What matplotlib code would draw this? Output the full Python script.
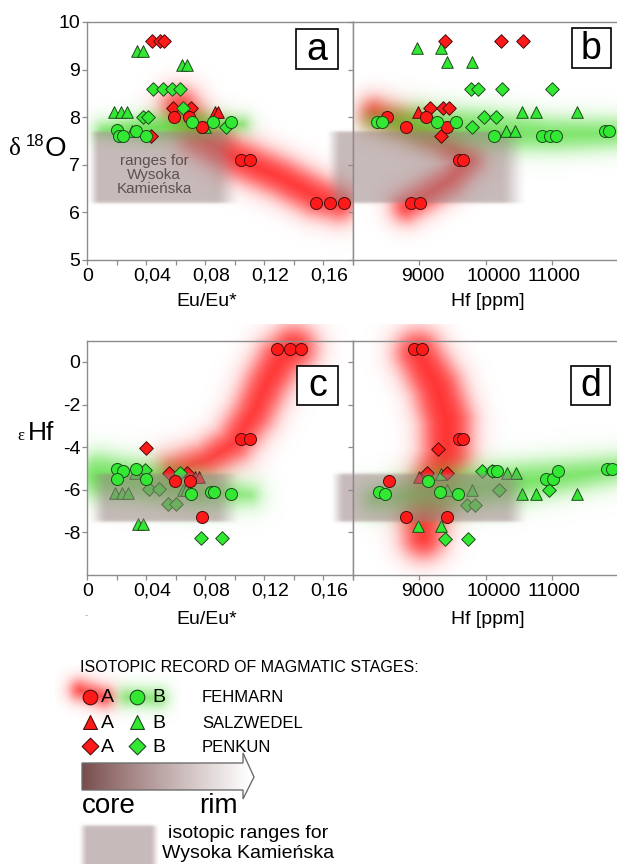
import numpy as np
import matplotlib
matplotlib.use("Agg")
import matplotlib.pyplot as plt
from matplotlib.patches import Rectangle, Polygon
from matplotlib.transforms import ScaledTranslation

plt.rcParams.update({"font.family": "Liberation Sans", "font.size": 14})

# ---------------- data: (x, y) per sample group ----------------
# A = early (red) stage, B = late (green) stage
# panel a: Eu/Eu* vs d18O
A_FEH_A = [(0.059, 8.0), (0.069, 8.0), (0.078, 7.8), (0.104, 7.1), (0.110, 7.1),
           (0.155, 6.2), (0.1645, 6.2), (0.1736, 6.2)]
A_FEH_B = [(0.020, 7.73), (0.0217, 7.6), (0.024, 7.6), (0.033, 7.7), (0.040, 7.6),
           (0.0707, 7.9), (0.0854, 7.9), (0.0974, 7.9)]
A_SAL_A = [(0.0866, 8.1), (0.0888, 8.1)]
A_SAL_B = [(0.0183, 8.1), (0.0226, 8.1), (0.0271, 8.1), (0.034, 9.4), (0.0375, 9.4),
           (0.0644, 9.1), (0.0673, 9.1), (0.030, 7.7), (0.080, 7.8)]
A_PEN_A = [(0.044, 9.6), (0.049, 9.6), (0.052, 9.6), (0.058, 8.2), (0.070, 8.2), (0.043, 7.6)]
A_PEN_B = [(0.0447, 8.6), (0.0511, 8.6), (0.0572, 8.6), (0.0628, 8.6), (0.0646, 8.2),
           (0.038, 8.0), (0.041, 8.0), (0.0938, 7.8)]

# panel b: Hf vs d18O
B_FEH_A = [(8506, 8.0), (9098, 8.0), (8792, 7.8), (9409, 7.8), (9594, 7.1), (9659, 7.1),
           (8872, 6.2), (9008, 6.2)]
B_FEH_B = [(8366, 7.9), (8441, 7.9), (9258, 7.9), (9549, 7.9), (10121, 7.6), (10847, 7.6),
           (10963, 7.6), (11053, 7.6), (11790, 7.7), (11855, 7.7)]
B_SAL_A = [(8983, 8.1), (9118, 8.1)]
B_SAL_B = [(8967, 9.45), (9318, 9.45), (9409, 9.15), (9785, 9.15), (10537, 8.1), (10747, 8.1),
           (11364, 8.1), (10301, 7.7), (10436, 7.7)]
B_PEN_A = [(9384, 9.6), (10221, 9.6), (10562, 9.6), (9158, 8.2), (9359, 8.2), (9449, 8.2),
           (9318, 7.6)]
B_PEN_B = [(9775, 8.6), (9875, 8.6), (10236, 8.6), (10998, 8.6), (9970, 8.0), (10146, 8.0),
           (9785, 7.8)]

# panel c: Eu/Eu* vs eHf
C_FEH_A = [(0.1284, 0.6), (0.137, 0.6), (0.145, 0.6), (0.104, -3.6), (0.110, -3.6),
           (0.0594, -5.6), (0.0696, -5.6), (0.078, -7.3)]
C_FEH_B = [(0.0203, -5.0), (0.024, -5.1), (0.033, -5.0), (0.0199, -5.5), (0.040, -5.5),
           (0.0703, -6.2), (0.0836, -6.1), (0.0859, -6.1), (0.0974, -6.2)]
C_SAL_A = [(0.073, -5.4), (0.0757, -5.4)]
C_SAL_B = [(0.0188, -6.15), (0.0233, -6.15), (0.0278, -6.15), (0.032, -5.2), (0.0346, -7.6),
           (0.038, -7.6), (0.065, -6.0), (0.067, -6.0)]
C_PEN_A = [(0.0395, -4.05), (0.0556, -5.2), (0.0678, -5.2)]
C_PEN_B = [(0.039, -5.05), (0.042, -5.95), (0.0488, -5.95), (0.0545, -6.65), (0.060, -6.65),
           (0.0628, -5.2), (0.077, -8.25), (0.091, -8.25)]

# panel d: Hf vs eHf
D_FEH_A = [(8917, 0.6), (9043, 0.6), (9599, -3.6), (9659, -3.6), (8546, -5.6), (8797, -7.3),
           (9409, -7.3)]
D_FEH_B = [(8396, -6.1), (8481, -6.2), (9133, -5.6), (9308, -6.1), (9584, -6.2), (10110, -5.1),
           (10160, -5.1), (10897, -5.5), (11003, -5.5), (11088, -5.1), (11815, -5.0), (11890, -5.0)]
D_SAL_A = [(8998, -5.4)]
D_SAL_B = [(8973, -7.7), (9323, -7.7), (9419, -6.0), (9795, -6.0), (9318, -5.27), (10321, -5.2),
           (10446, -5.2), (10537, -6.2), (10747, -6.2), (11364, -6.2)]
D_PEN_A = [(9273, -4.1), (9118, -5.2), (9419, -5.2)]
D_PEN_B = [(9935, -5.1), (10085, -5.1), (10196, -6.0), (10948, -6.0), (9719, -6.7), (9835, -6.7),
           (9384, -8.3), (9724, -8.3)]

# trend fields (centre lines) for stage A (red) and stage B (green)
FIELD_A_RED = [(0.063, 8.2), (0.075, 7.62), (0.10, 7.15), (0.13, 6.75), (0.155, 6.35), (0.17, 6.2)]
FIELD_A_GREEN = [(0.011, 7.74), (0.04, 7.77), (0.075, 7.83), (0.105, 7.86)]
FIELD_B_RED = [(8331, 8.08), (8807, 7.84), (9308, 7.52), (9734, 7.10), (9459, 6.68),
               (9058, 6.33), (8807, 6.12)]
FIELD_B_GREEN = [(8300, 7.92), (9000, 7.85), (10000, 7.74), (11000, 7.64), (11900, 7.66)]
FIELD_C_RED = [(0.0583, -5.08), (0.0809, -4.61), (0.099, -3.83), (0.1125, -2.42),
               (0.1216, -1.0), (0.1306, 0.09), (0.1397, 0.64)]
FIELD_C_GREEN = [(0.0086, -5.35), (0.0425, -5.68), (0.0764, -6.10), (0.11, -6.25)]
FIELD_D_RED = [(8983, 0.41), (9258, -1.16), (9409, -2.73), (9409, -4.30), (9208, -5.87),
               (9058, -7.44), (9058, -8.22)]
FIELD_D_GREEN = [(8331, -6.45), (9308, -6.10), (10311, -5.71), (11314, -5.32), (12015, -5.02)]

# Wysoka Kamienska reference ranges
WK_D18O = (6.2, 7.7)
WK_EHF = (-7.5, -5.26)

# ---------------- layout / style ----------------
W, H, DPI = 617, 864, 100
RED = "#ff1a1a"
GREEN = "#33e833"
RED_EDGE = "#4a0c0c"
GREEN_EDGE = "#1d4a1d"
SPINE = "#8c8c8c"
BAND_RGB = (0.60, 0.51, 0.51)
FIELD_RED = (1.0, 0.08, 0.08)
FIELD_GREEN = (0.30, 0.86, 0.20)

fig = plt.figure(figsize=(W / DPI, H / DPI), dpi=DPI)


def frame(l, t, r, b):
    return fig.add_axes([l / W, 1 - b / H, (r - l) / W, (b - t) / H])


ax_a = frame(87.3, 22, 353, 260)
ax_b = frame(353, 22, 617, 260)
ax_c = frame(87.3, 340.7, 353, 575)
ax_d = frame(353, 340.7, 617, 575)

ax_a.set_xlim(0, 0.18); ax_a.set_ylim(5, 10)
ax_b.set_xlim(8000, 11970); ax_b.set_ylim(5, 10)
ax_c.set_xlim(0, 0.18); ax_c.set_ylim(-10, 1)
ax_d.set_xlim(8000, 11970); ax_d.set_ylim(-10, 1)


def shift_labels(labels, offsets):
    for lab, dx in zip(labels, offsets):
        lab.set_transform(lab.get_transform() + ScaledTranslation(dx / DPI, 0, fig.dpi_scale_trans))


for ax in (ax_a, ax_b, ax_c, ax_d):
    for s in ax.spines.values():
        s.set_color(SPINE); s.set_linewidth(1.0)
    ax.tick_params(colors=SPINE, labelcolor="black", length=3.5, width=0.9,
                   direction="out", labelsize=14, pad=2)

for ax in (ax_a, ax_c):
    ticks = np.round(np.arange(0, 0.181, 0.02), 2)
    labs = ["0" if t == 0 else (f"{t:.2f}".replace(".", ",") if round(t / 0.04, 6) % 1 == 0 else "")
            for t in ticks]
    ax.set_xticks(ticks, labs)
    shift_labels(ax.get_xticklabels(), [0] + [6] * (len(ticks) - 1))
for ax in (ax_b, ax_d):
    ax.set_xticks([8000, 9000, 10000, 11000], ["", "9000", "10000", "11000"])
    shift_labels(ax.get_xticklabels(), [0, 3, 8, 1])
    ax.spines["right"].set_visible(False)
    ax.tick_params(axis="y", labelleft=False)

ax_a.set_yticks(range(5, 11))
ax_b.set_yticks(range(5, 11))
ax_c.set_yticks(range(-8, 1, 2), [str(v) for v in range(-8, 1, 2)])
ax_d.set_yticks(range(-8, 1, 2))
for ax in (ax_a, ax_c):
    ax.tick_params(axis="y", pad=1.5)


# ---------------- soft fields rendered as images ----------------
def pixel_grid(ax, m=16):
    x0, y0, x1, y1 = ax.bbox.extents
    xs = np.arange(np.floor(x0 - m), np.ceil(x1 + m)) + 0.5
    ys = np.arange(np.ceil(y1 + m), np.floor(y0 - m), -1) - 0.5
    PX, PY = np.meshgrid(xs, ys)
    inv = ax.transData.inverted()
    xl, yb = inv.transform((xs[0] - 0.5, ys[-1] - 0.5))
    xr, yt = inv.transform((xs[-1] + 0.5, ys[0] + 0.5))
    return PX, PY, [xl, xr, yb, yt]


def stroke_alpha(PX, PY, pts, hw, soft):
    best = np.full(PX.shape, np.inf)
    for (x0, y0), (x1, y1), h0, h1 in zip(pts[:-1], pts[1:], hw[:-1], hw[1:]):
        dx, dy = x1 - x0, y1 - y0
        t = np.clip(((PX - x0) * dx + (PY - y0) * dy) / (dx * dx + dy * dy), 0, 1)
        d = np.hypot(PX - (x0 + t * dx), PY - (y0 + t * dy))
        best = np.minimum(best, d - (h0 + t * (h1 - h0)))
    return 1 / (1 + np.exp(np.clip(best / soft, -50, 50)))


def ramp(v, a, b):
    s = np.clip((v - a) / (b - a), 0, 1)
    return s * s * (3 - 2 * s)


def layer(ax, alpha, rgb, ext, z, clip=True):
    img = np.zeros(alpha.shape + (4,))
    img[..., :3] = rgb
    img[..., 3] = alpha
    ax.imshow(img, extent=ext, origin="upper", aspect="auto", interpolation="bilinear",
              zorder=z, clip_on=clip)


def field(ax, pts, hw, rgb, amax, z, soft=5.5, clip=True):
    PX, PY, ext = pixel_grid(ax)
    P = ax.transData.transform(np.array(pts, float))
    layer(ax, amax * stroke_alpha(PX, PY, P, hw, soft), rgb, ext, z, clip)


def band(ax, yr, xs_list, amax=0.55, z=3):
    PX, PY, ext = pixel_grid(ax)
    yb = ax.transData.transform((0, yr[0]))[1]
    yt = ax.transData.transform((0, yr[1]))[1]
    fy = 1 / (1 + np.exp(-(PY - yb) / 0.8)) * 1 / (1 + np.exp(-(yt - PY) / 0.8))
    fx = np.zeros_like(PX)
    for a, b, c, d in xs_list:
        fx = np.maximum(fx, ramp(PX, a, b) * (1 - ramp(PX, c, d)))
    layer(ax, amax * fx * fy, BAND_RGB, ext, z)


field(ax_a, FIELD_A_RED, [16, 17, 17, 17, 17, 15], FIELD_RED, 0.9, 1, soft=6.5)
field(ax_a, FIELD_A_GREEN, [5, 11, 10, 4], FIELD_GREEN, 0.88, 2, soft=5)
field(ax_b, FIELD_B_RED, [12] * 7, FIELD_RED, 0.9, 1, soft=6)
field(ax_b, FIELD_B_GREEN, [5, 16, 17, 14, 12], FIELD_GREEN, 0.78, 2, soft=6)
field(ax_c, FIELD_C_RED, [12, 14, 16, 18, 19, 20, 20], FIELD_RED, 0.9, 1, soft=7, clip=False)
field(ax_c, FIELD_C_GREEN, [19, 17, 14, 6], FIELD_GREEN, 0.82, 2, soft=6.5)
field(ax_d, FIELD_D_RED, [20, 22, 23, 22, 21, 20, 18], FIELD_RED, 0.9, 1, soft=7, clip=False)
field(ax_d, FIELD_D_GREEN, [9, 19, 17, 13, 10], FIELD_GREEN, 0.8, 2, soft=6.5)

top_bands = [(88, 100, 215, 242), (325, 342, 500, 528)]
low_bands = [(88, 108, 215, 242), (330, 345, 505, 530)]
band(ax_a, WK_D18O, top_bands)
band(ax_b, WK_D18O, top_bands)
band(ax_c, WK_EHF, low_bands)
band(ax_d, WK_EHF, low_bands)


# ---------------- sample points ----------------
def pts(ax, data, marker, face, edge, size, z):
    x, y = zip(*data)
    ax.scatter(x, y, marker=marker, s=size, c=face, edgecolors=edge, linewidths=0.7, zorder=z)


panels = [
    (ax_a, A_FEH_A, A_FEH_B, A_SAL_A, A_SAL_B, A_PEN_A, A_PEN_B, 4),
    (ax_b, B_FEH_A, B_FEH_B, B_SAL_A, B_SAL_B, B_PEN_A, B_PEN_B, 4),
    (ax_c, C_FEH_A, C_FEH_B, C_SAL_A, C_SAL_B, C_PEN_A, C_PEN_B, 2.5),
    (ax_d, D_FEH_A, D_FEH_B, D_SAL_A, D_SAL_B, D_PEN_A, D_PEN_B, 2.5),
]
for ax, fa, fb, sa, sb, pa, pb, zlow in panels:
    pts(ax, sa, "^", RED, RED_EDGE, 70, zlow)
    pts(ax, sb, "^", GREEN, GREEN_EDGE, 70, zlow)
    pts(ax, pa, "D", RED, RED_EDGE, 48, zlow + 0.1)
    pts(ax, pb, "D", GREEN, GREEN_EDGE, 48, zlow + 0.1)
    pts(ax, fa, "o", RED, RED_EDGE, 75, 5)
    pts(ax, fb, "o", GREEN, GREEN_EDGE, 75, 5)

# ---------------- free text, letters and legend (figure pixel coordinates) ----------------
ov = fig.add_axes([0, 0, 1, 1], zorder=10)
ov.set_xlim(0, W); ov.set_ylim(H, 0); ov.axis("off"); ov.patch.set_alpha(0)

# axis titles
ov.text(9, 155, "δ", family="Liberation Serif", fontsize=18, ha="left", va="baseline")
ov.text(26, 146, "18", fontsize=12, ha="left", va="baseline")
ov.text(45, 156, "O", fontsize=20, ha="left", va="baseline")
ov.text(17, 440, "ε", family="Liberation Serif", fontsize=12, ha="left", va="baseline")
ov.text(28, 440, "Hf", fontsize=19, ha="left", va="baseline")
for y in (301, 620):
    ov.text(207, y, "Eu/Eu*", fontsize=14, ha="center", va="center")
    ov.text(488, y, "Hf [ppm]", fontsize=14, ha="center", va="center")
ov.text(86, 615, "-", fontsize=7, color="#aaaaaa", ha="center", va="center")

# reference range caption inside panel a
for y, s in zip((161, 175, 189), ("ranges for", "Wysoka", "Kamieńska")):
    ov.text(154, y, s, fontsize=11, color="#5e5050", ha="center", va="center")

# panel letters
for (l, t, r, b), s in zip([(296, 29, 338, 69), (572, 28, 611, 68),
                            (297, 366, 338, 405), (571, 366, 610, 405)], "abcd"):
    ov.add_patch(Rectangle((l, t), r - l, b - t, fc="white", ec="black", lw=1.2))
    ov.text((l + r) / 2, (t + b) / 2 + 1, s, fontsize=27, ha="center", va="center")


def ov_soft(x0, x1, y0, y1, alpha_fn, rgb, z):
    xs = np.arange(x0, x1) + 0.5
    ys = np.arange(y0, y1) + 0.5
    PX, PY = np.meshgrid(xs, ys)
    img = np.zeros(PX.shape + (4,))
    img[..., :3] = rgb
    img[..., 3] = alpha_fn(PX, PY)
    ov.imshow(img, extent=[x0, x1, y1, y0], origin="upper", aspect="auto",
              interpolation="bilinear", zorder=z)


# legend
ov.text(80, 668, "ISOTOPIC RECORD OF MAGMATIC STAGES:", fontsize=11.5, ha="left", va="center")
ov_soft(55, 130, 665, 725,
        lambda X, Y: 0.85 * stroke_alpha(X, Y, np.array([(80, 690), (104, 697)]), [8, 8], 4.5),
        FIELD_RED, 1)
ov_soft(105, 180, 670, 725,
        lambda X, Y: 0.75 * stroke_alpha(X, Y, np.array([(128, 697), (158, 698)]), [7, 7], 4.5),
        FIELD_GREEN, 1)
rows = [(697, "o", 110, "FEHMARN"), (722, "^", 100, "SALZWEDEL"), (746, "D", 72, "PENKUN")]
for y, mk, sz, name in rows:
    ov.scatter([90], [y], marker=mk, s=sz, c=RED, edgecolors=RED_EDGE, linewidths=0.8, zorder=3)
    ov.scatter([137], [y], marker=mk, s=sz, c=GREEN, edgecolors=GREEN_EDGE, linewidths=0.8, zorder=3)
    ov.text(101, y + 1, "A", fontsize=14, ha="left", va="center")
    ov.text(152, y + 1, "B", fontsize=14, ha="left", va="center")
    ov.text(202, y + 1, name, fontsize=12, ha="left", va="center")

# core -> rim arrow with brown-to-white gradient
arrow = Polygon([(82, 763), (243, 763), (243, 753), (254, 777), (243, 799), (243, 790), (82, 790)],
                closed=True, fc="none", ec="#6e6e6e", lw=1.0, zorder=4)
ov.add_patch(arrow)
grad = np.linspace(0, 1, 256)[None, :, None]
dark = np.array([0.47, 0.29, 0.29])[None, None, :]
grad_img = dark + (1 - dark) * grad ** 0.9
im = ov.imshow(np.repeat(grad_img, 4, axis=0), extent=[82, 250, 800, 752], origin="upper",
               aspect="auto", interpolation="bilinear", zorder=3)
im.set_clip_path(arrow)
ov.text(82, 806, "core", fontsize=20, ha="left", va="center")
ov.text(199, 806, "rim", fontsize=20, ha="left", va="center")

# reference range swatch
ov_soft(74, 166, 822, 864,
        lambda X, Y: 0.55 * ramp(X, 78, 88) * (1 - ramp(X, 150, 160)) / (1 + np.exp(-(Y - 825.5) / 0.8)),
        BAND_RGB, 1)
ov.text(248, 834, "isotopic ranges for", fontsize=14, ha="center", va="center")
ov.text(248, 853, "Wysoka Kamieńska", fontsize=14, ha="center", va="center")

for ax in (ax_a, ax_b):
    ax.set_ylim(5, 10)
for ax in (ax_c, ax_d):
    ax.set_ylim(-10, 1)
for ax in (ax_a, ax_c):
    ax.set_xlim(0, 0.18)
for ax in (ax_b, ax_d):
    ax.set_xlim(8000, 11970)

fig.savefig("out.png", dpi=DPI, facecolor="white")
